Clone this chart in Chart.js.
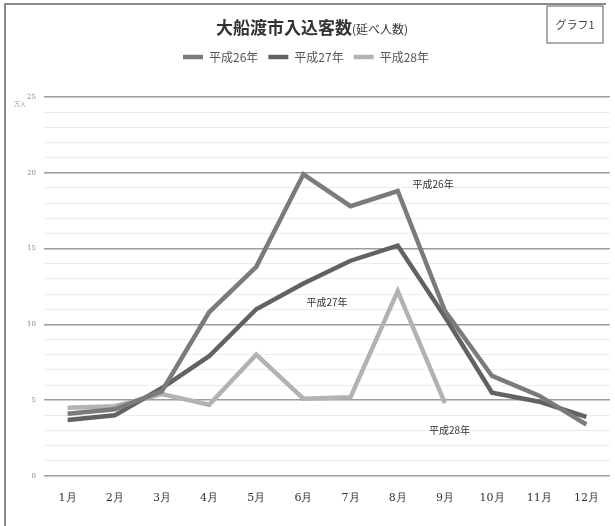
<!DOCTYPE html>
<html>
<head>
<meta charset="utf-8">
<script src="https://cdn.jsdelivr.net/npm/chart.js@4.4.0/dist/chart.umd.min.js"></script>
<style>
  html, body { margin: 0; padding: 0; background: #fff; }
  #wrap { position: relative; width: 615px; height: 526px; }
</style>
</head>
<body>
<div id="wrap"><canvas id="c" width="615" height="526"></canvas></div>
<script>
// 月別の入込客数（万人）
const months = ['1月', '2月', '3月', '4月', '5月', '6月', '7月', '8月', '9月', '10月', '11月', '12月'];
const h26 = [4.1, 4.4, 5.6, 10.8, 13.8, 19.9, 17.8, 18.8, 10.9, 6.6, 5.3, 3.4];
const h27 = [3.7, 4.0, 5.8, 7.9, 11.0, 12.7, 14.2, 15.2, 10.5, 5.5, 4.9, 3.9];
const h28 = [4.5, 4.6, 5.4, 4.7, 8.0, 5.1, 5.2, 12.2, 4.8, null, null, null];
const seriesNames = ['平成26年', '平成27年', '平成28年'];
const yTicks = [0, 5, 10, 15, 20, 25];

const JP = '"Noto Sans CJK JP", "Noto Sans", sans-serif';

// 系列名の注記（どの月の位置・どの値の高さに置くか）
const notes = [
  { text: '平成26年', monthIndex: 7.75, value: 19.0 },
  { text: '平成27年', monthIndex: 5.5, value: 11.2 },
  { text: '平成28年', monthIndex: 8.1, value: 2.8 }
];

// 凡例の下に余白を足す
const legendSpacer = {
  id: 'legendSpacer',
  beforeInit(chart) {
    const fit = chart.legend.fit;
    chart.legend.fit = function () {
      fit.call(this);
      this.height += 24;
    };
  }
};

const framePlugin = {
  id: 'frame',
  beforeDraw(chart) {
    const ctx = chart.ctx;
    ctx.save();
    ctx.fillStyle = '#fff';
    ctx.fillRect(0, 0, chart.width, chart.height);
    ctx.strokeStyle = '#8a8a8a';
    ctx.lineWidth = 2;
    ctx.beginPath();
    ctx.moveTo(5, 526);
    ctx.lineTo(5, 4);
    ctx.lineTo(606, 4);
    ctx.stroke();
    ctx.restore();
  },
  afterDraw(chart) {
    const ctx = chart.ctx;
    const { x, y } = chart.scales;
    ctx.save();
    // タイトル
    ctx.fillStyle = '#333';
    ctx.textBaseline = 'alphabetic';
    const main = '大船渡市入込客数';
    ctx.font = '12px ' + JP;
    const sub = '(延べ人数)';
    const subW = ctx.measureText(sub).width;
    ctx.font = 'bold 17px ' + JP;
    const mainW = ctx.measureText(main).width;
    const startX = 312 - (mainW + subW) / 2;
    ctx.textAlign = 'left';
    ctx.fillText(main, startX, 34);
    ctx.font = '12px ' + JP;
    ctx.fillText(sub, startX + mainW, 34);

    // 右上の見出し枠
    ctx.strokeStyle = '#777';
    ctx.lineWidth = 1.2;
    ctx.strokeRect(547, 6, 56, 37);
    ctx.font = '11px ' + JP;
    ctx.fillStyle = '#444';
    ctx.textAlign = 'center';
    ctx.fillText('グラフ1', 575, 29);

    // 単位
    ctx.font = '6px ' + JP;
    ctx.fillStyle = '#999';
    ctx.fillText('万人', 20, 106);

    // 系列名の注記
    ctx.font = '10px ' + JP;
    ctx.fillStyle = '#333';
    notes.forEach(n => {
      const px = x.getPixelForValue(n.monthIndex);
      const py = y.getPixelForValue(n.value);
      ctx.fillText(n.text, px, py);
    });
    ctx.restore();
  }
};

new Chart(document.getElementById('c'), {
  type: 'line',
  data: {
    labels: months,
    datasets: [
      { label: seriesNames[0], data: h26, borderColor: '#7b7b7b', backgroundColor: '#7b7b7b', borderWidth: 4.5, pointRadius: 0, tension: 0 },
      { label: seriesNames[1], data: h27, borderColor: '#626262', backgroundColor: '#626262', borderWidth: 4.5, pointRadius: 0, tension: 0 },
      { label: seriesNames[2], data: h28, borderColor: '#b2b2b2', backgroundColor: '#b2b2b2', borderWidth: 4.5, pointRadius: 0, tension: 0 }
    ]
  },
  options: {
    responsive: false,
    animation: false,
    layout: { padding: { top: 41, left: 0, right: 3, bottom: 0 } },
    plugins: {
      title: { display: false },
      tooltip: { enabled: false },
      legend: {
        display: true,
        position: 'top',
        labels: {
          usePointStyle: true,
          pointStyle: 'line',
          pointStyleWidth: 20,
          boxHeight: 4,
          color: '#555',
          font: { family: JP, size: 12 },
          padding: 10
        }
      }
    },
    scales: {
      x: {
        offset: true,
        grid: { display: false, drawTicks: false },
        border: { display: false },
        ticks: { color: '#333', font: { family: '"DejaVu Serif", serif', size: 11 }, padding: 16, maxRotation: 0 },
        afterFit(scale) { scale.height = 50; }
      },
      y: {
        min: 0,
        max: 25,
        border: { display: false },
        grid: {
          drawTicks: false,
          color: ctx => (ctx.tick.value % 5 === 0 ? '#9c9c9c' : '#ececec'),
          lineWidth: ctx => (ctx.tick.value % 5 === 0 ? 1.5 : 1)
        },
        ticks: {
          stepSize: 1,
          autoSkip: false,
          color: '#888',
          font: { family: '"DejaVu Serif", serif', size: 7 },
          padding: 8,
          callback: v => (yTicks.includes(v) ? String(v) : '')
        },
        afterFit(scale) { scale.width = 44; }
      }
    }
  },
  plugins: [legendSpacer, framePlugin]
});
</script>
</body>
</html>
